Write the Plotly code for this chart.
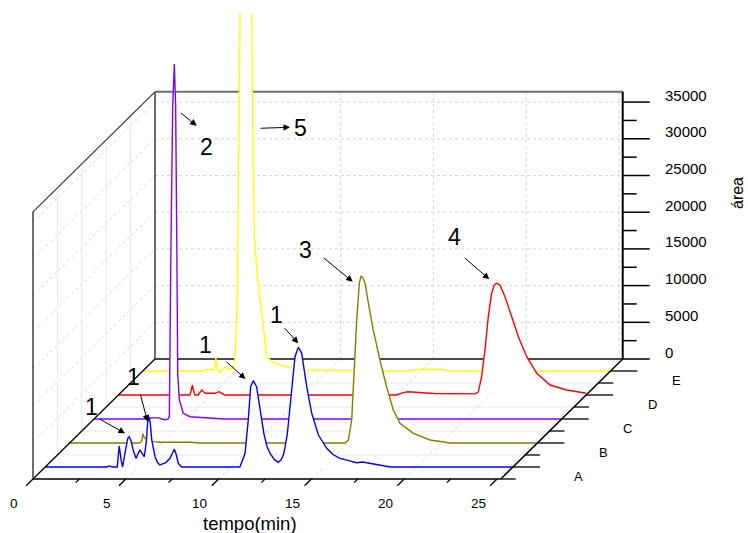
import numpy as np
import plotly.graph_objects as go

# ---------------------------------------------------------------------------
# Chromatograms (tempo in min, detector response "área"), one per sample.
# Samples are stacked in depth: A in front, E at the back.
# ---------------------------------------------------------------------------
categories = ["A", "B", "C", "D", "E"]
series_colors = ["#0000FF", "#808000", "#8000FF", "#FF0000", "#FFFF00"]

tempo_A = [0, 3.3, 3.49, 3.6, 3.88, 3.99, 4.1, 4.17, 4.32, 4.45, 4.53, 4.62, 4.75,
           4.89, 5.1, 5.34, 5.45, 5.52, 5.59, 5.66, 5.74, 5.92, 6.05, 6.18, 6.35,
           6.5, 6.72, 6.85, 6.96, 7.06, 7.17, 7.35, 10.3, 10.49, 10.77, 10.94,
           11.07, 11.21, 11.39, 11.57, 11.78, 11.95, 12.11, 12.35, 12.56, 12.72,
           12.86, 13.04, 13.16, 13.28, 13.46, 13.64, 13.82, 14.09, 14.36, 14.72,
           15.17, 15.5, 15.88, 16.3, 16.78, 17.1, 17.5, 18.0, 18.6, 25.2]
area_A = [0, 0, 150, 0, 0, 2860, 800, 0, 2200, 3900, 4130, 3600, 2200,
          1180, 2320, 1400, 3500, 6000, 6850, 6000, 3680, 1400, 600, 270, 450,
          600, 1180, 1900, 2410, 1700, 500, 0, 0, 0, 1870, 6400,
          10940, 11760, 10940, 7770, 4590, 2800, 1870, 1000, 640, 1000,
          1870, 4360, 7200, 10940, 15030, 16310, 15490, 10940, 7320, 4360,
          2550, 1700, 1180, 900, 590, 680, 500, 270, 0, 0]

tempo_B = [0, 3.75, 3.88, 3.95, 4.03, 4.15, 4.3, 4.51, 4.87, 6.5, 7.0, 14.85,
           15.02, 15.2, 15.32, 15.47, 15.61, 15.70, 15.8, 15.92, 16.1, 16.36,
           16.72, 17.08, 17.44, 17.8, 18.52, 19.42, 20.5, 25.2]
area_B = [0, 0, 200, 1230, 700, 500, 350, 180, 100, 100, 0, 0,
          410, 3130, 9950, 16760, 21760, 22750, 22500, 21760, 19030, 15400,
          11300, 7670, 4500, 2680, 1320, 410, 0, 0]

tempo_C = [0, 2.9, 3.1, 3.5, 3.65, 3.85, 4.0, 4.06, 4.15, 4.24, 4.33, 4.40,
           4.46, 4.51, 4.60, 4.81, 5.17, 6.09, 7.0, 25.2]
area_C = [0, 0, 150, 150, 0, -100, 0, 400, 24390, 42560, 48370, 42560,
          24390, 6130, 2590, 780, 310, 136, 0, 0]

tempo_D = [0, 3.85, 3.92, 3.98, 4.05, 4.12, 4.3, 4.49, 4.6, 4.67, 5.2, 5.42,
           5.6, 5.74, 15.0, 15.3, 15.6, 16.0, 16.5, 17.0, 19.2, 19.39, 19.57,
           19.75, 19.93, 20.11, 20.25, 20.38, 20.56, 20.83, 21.19, 21.55, 22.0,
           22.54, 23.26, 24.15, 25.05, 25.2]
area_D = [0, 0, 600, 1360, 600, 0, 0, 680, 400, 230, 230, 450,
          200, 0, 0, 300, 450, 400, 300, 200, 150, 400, 2500,
          6130, 10670, 13850, 15000, 15220, 14990, 13390, 10670, 7950, 5220,
          2950, 1360, 680, 310, 250]

tempo_E = [0, 3.2, 3.4, 3.8, 3.88, 3.94, 4.0, 4.1, 4.2, 4.3, 4.43, 4.55, 4.7,
           4.88, 4.97, 5.09, 5.24, 5.35, 5.5, 5.65, 5.87, 5.94, 6.01, 6.14,
           6.41, 6.68, 7.0, 7.4, 7.75, 8.47, 14.2, 15.0, 16.0, 16.7, 25.2]
area_E = [0, 0, 200, 200, 600, 1770, 600, -150, -150, 300, 550, 300, 250,
          400, 1770, 9670, 48770, 62000, 68000, 62000, 48770, 30100, 18800, 13760,
          7400, 1950, 1200, 800, 590, 140, 0, 200, 200, 0, 0]

tempo_series = [tempo_A, tempo_B, tempo_C, tempo_D, tempo_E]
area_series = [area_A, area_B, area_C, area_D, area_E]

tempo_ticks = [0, 5, 10, 15, 20, 25]
tempo_minor = [2.5, 7.5, 12.5, 17.5, 22.5]
area_ticks = [0, 5000, 10000, 15000, 20000, 25000, 30000, 35000]
area_minor = [2500, 7500, 12500, 17500, 22500, 27500, 32500]
depth_ticks = [1, 2, 3, 4, 5]
depth_minor = [0.5, 1.5, 2.5, 3.5, 4.5]

# peak labels: (text, label position, arrow tail, arrow head) in screen units
peak_labels = [
    ("2", (206.7, 146.7), (179.3, 111.7), (196.7, 125.7)),
    ("5", (300.7, 128.3), (259.0, 128.3), (290.0, 127.3)),
    ("3", (305.7, 250.0), (322.3, 256.7), (352.7, 281.7)),
    ("4", (454.3, 236.7), (463.3, 256.7), (489.3, 279.3)),
    ("1", (276.7, 315.0), (283.3, 326.7), (298.3, 343.3)),
    ("1", (205.0, 345.0), (225.0, 360.5), (245.5, 379.0)),
    ("1", (133.3, 376.7), (140.0, 393.3), (147.7, 421.7)),
    ("1", (91.7, 406.7), (98.3, 418.3), (125.0, 433.3)),
]

# ---------------------------------------------------------------------------
# Oblique box geometry (screen units = pixels of the 748x533 canvas)
# ---------------------------------------------------------------------------
W, H = 748, 533
T_MAX = 25.2
Z_MAX = 36400
D_MIN, D_MAX = 0.5, 5.5
X0, Y0 = 33.0, 479.0            # front-left-bottom corner
PX_PER_MIN = 18.56
PX_PER_AREA = 36.7 / 5000
DEPTH_DX, DEPTH_DY = 24.4, -24.0   # screen shift per depth unit
CLIP_TOP = 13

FONT = "Arial, Liberation Sans, sans-serif"


def proj(t, z, d):
    t = np.asarray(t, dtype=float)
    z = np.asarray(z, dtype=float)
    x = X0 + t * PX_PER_MIN + (d - D_MIN) * DEPTH_DX
    y = Y0 - z * PX_PER_AREA + (d - D_MIN) * DEPTH_DY
    return x, y


shapes = []


def seg(p, q, color, width=1.0, dash="solid", layer="below"):
    shapes.append(dict(type="line", xref="x", yref="y",
                       x0=float(p[0]), y0=float(p[1]), x1=float(q[0]), y1=float(q[1]),
                       line=dict(color=color, width=width, dash=dash), layer=layer))


GRID_DOT = "#d4d4d4"
GRID_SOLID = "#e8e8e8"
WALL = "#6e6e6e"

# back wall grid
for z in area_ticks[1:]:
    seg(proj(0, z, D_MAX), proj(T_MAX, z, D_MAX), GRID_DOT, 1, "dot")
for t in tempo_ticks[1:]:
    seg(proj(t, 0, D_MAX), proj(t, Z_MAX, D_MAX), GRID_DOT, 1, "dot")
# left wall grid
for z in area_ticks[1:]:
    seg(proj(0, z, D_MIN), proj(0, z, D_MAX), GRID_DOT, 1, "dot")
for d in depth_minor[1:]:
    seg(proj(0, 0, d), proj(0, Z_MAX, d), GRID_SOLID, 1)
# floor grid
for d in depth_minor[1:]:
    seg(proj(0, 0, d), proj(T_MAX, 0, d), GRID_SOLID, 1)
for t in tempo_ticks[1:]:
    seg(proj(t, 0, D_MIN), proj(t, 0, D_MAX), GRID_DOT, 1, "dot")

# wall borders (hidden behind the filled peaks)
seg(proj(0, Z_MAX, D_MAX), proj(T_MAX, Z_MAX, D_MAX), WALL, 2)
seg(proj(0, 0, D_MAX), proj(0, Z_MAX, D_MAX), WALL, 2)
seg(proj(0, 0, D_MAX), proj(T_MAX, 0, D_MAX), "#4a4a4a", 2)
seg(proj(0, 0, D_MIN), proj(0, Z_MAX, D_MIN), WALL, 2)
seg(proj(0, Z_MAX, D_MIN), proj(0, Z_MAX, D_MAX), "#333333", 1.2)

# axes drawn over the data
seg(proj(0, 0, D_MIN), proj(T_MAX, 0, D_MIN), "black", 1.5, layer="above")
seg(proj(0, 0, D_MIN), proj(0, 0, D_MAX), "black", 1.3, layer="above")
seg(proj(T_MAX, 0, D_MIN), proj(T_MAX, 0, D_MAX), "black", 1.5, layer="above")
seg(proj(T_MAX, 0, D_MAX), proj(T_MAX, Z_MAX, D_MAX), "black", 2, layer="above")

# tempo ticks (slanted toward the viewer)
for t in tempo_ticks:
    seg(proj(t, 0, D_MIN), proj(t, 0, D_MIN - 0.28), "black", 1.3, layer="above")
for t in tempo_minor:
    seg(proj(t, 0, D_MIN), proj(t, 0, D_MIN - 0.15), "black", 1.3, layer="above")
# depth ticks (horizontal, to the right)
for d in depth_ticks:
    x, y = proj(T_MAX, 0, d)
    seg((x, y), (x + 27, y), "black", 1.3, layer="above")
for d in depth_minor:
    x, y = proj(T_MAX, 0, d)
    seg((x, y), (x + 15, y), "black", 1.3, layer="above")
# area ticks
for z in area_ticks:
    x, y = proj(T_MAX, z, D_MAX)
    seg((x, y), (x + 27, y), "black", 1.5, layer="above")
for z in area_minor:
    x, y = proj(T_MAX, z, D_MAX)
    seg((x, y), (x + 14, y), "black", 1.5, layer="above")

fig = go.Figure()

# waterfall curves, back to front, each filled white down to its baseline
for i in reversed(range(len(categories))):
    d = depth_ticks[i]
    xs, ys = proj(tempo_series[i], area_series[i], d)
    fig.add_trace(go.Scatter(
        x=xs, y=ys, mode="lines", name=categories[i],
        line=dict(color=series_colors[i], width=1.4),
        fill="toself", fillcolor="white", hoverinfo="skip", showlegend=False))

annotations = []


def label(x, y, text, size, xanchor="center", yanchor="middle", angle=0):
    annotations.append(dict(x=float(x), y=float(y), xref="x", yref="y", text=text,
                            showarrow=False, xanchor=xanchor, yanchor=yanchor,
                            textangle=angle, font=dict(family=FONT, size=size, color="black")))


for t in tempo_ticks:
    x, y = proj(t, 0, D_MIN)
    label(x - 19, y + 24, str(t), 13.5)
for z in area_ticks:
    x, y = proj(T_MAX, z, D_MAX)
    label(x + 40, y - 7, str(z), 15, xanchor="left")
for d, c in zip(depth_ticks, categories):
    x, y = proj(T_MAX, 0, d)
    label(x + 66, y + 9, c, 13)

label(250, 523, "tempo(min)", 18.5)
label(737, 193, "área", 16, angle=-90)

for text, pos, tail, head in peak_labels:
    label(pos[0], pos[1], text, 23)
    annotations.append(dict(x=head[0], y=head[1], ax=tail[0], ay=tail[1],
                            xref="x", yref="y", axref="x", ayref="y", text="",
                            showarrow=True, arrowhead=2, arrowsize=1.3,
                            arrowwidth=1, arrowcolor="black", standoff=0))

fig.update_layout(
    width=W, height=H,
    margin=dict(l=0, r=0, t=CLIP_TOP, b=0),
    paper_bgcolor="white", plot_bgcolor="white",
    xaxis=dict(range=[0, W], visible=False, fixedrange=True),
    yaxis=dict(range=[H, CLIP_TOP], visible=False, fixedrange=True),
    shapes=shapes, annotations=annotations, showlegend=False,
)

fig.write_html("out.html")
